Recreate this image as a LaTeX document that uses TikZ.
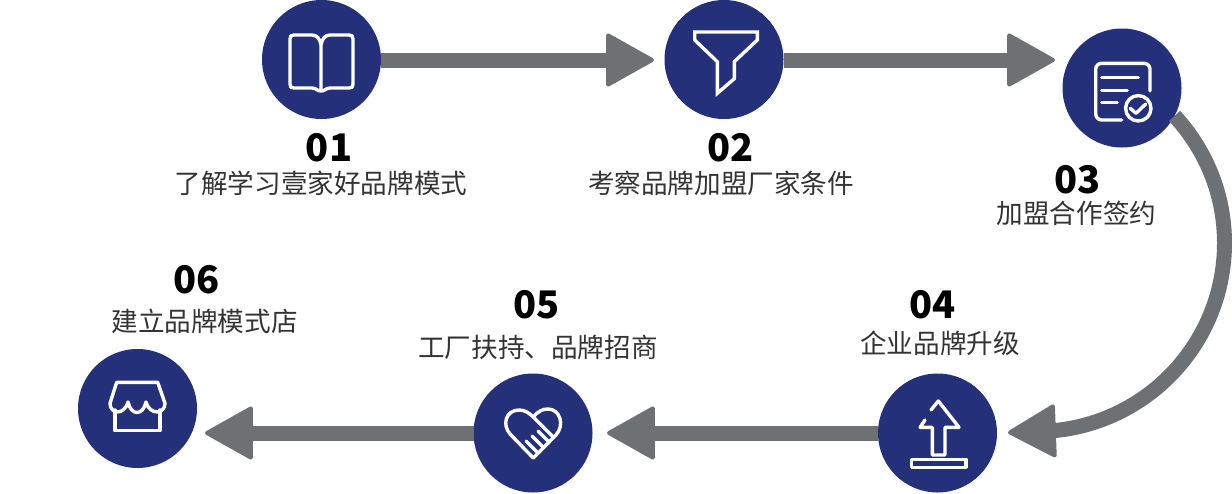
\documentclass[tikz,border=0pt]{standalone}
\usepackage{fontspec}
\setmainfont{Open Sans}
\newfontfamily\cjkfont{Noto Sans CJK SC}
\usetikzlibrary{arrows.meta}
\definecolor{stepblue}{HTML}{25307A}
\definecolor{flowgrey}{HTML}{6D7173}
\definecolor{labelgrey}{HTML}{333333}
\begin{document}
\begin{tikzpicture}[x=0.5pt,y=-0.5pt]
\tikzstyle{stepdot}=[circle,fill=stepblue,minimum size=59.5pt,inner sep=0pt,outer sep=0pt]
\tikzstyle{flow}=[draw=flowgrey,line width=7.5pt,-{Triangle[length=25pt,width=27.5pt,round,line width=2pt]},flowgrey]
\tikzstyle{icon}=[draw=white,line width=1.7pt,line cap=round,line join=round]
\tikzstyle{stepnum}=[text=black,font=\cjkfont\bfseries\fontsize{19}{20}\selectfont,inner sep=0pt]
\tikzstyle{steptext}=[text=labelgrey,font=\cjkfont\fontsize{13.3}{14}\selectfont,inner sep=0pt]
\useasboundingbox (0,0) rectangle (1232,493);
\node[stepdot] (v1) at (321.5,59.5) {};
\node[stepdot] (v2) at (724,59.5) {};
\node[stepdot] (v3) at (1122,88) {};
\node[stepdot] (v4) at (937.5,433) {};
\node[stepdot] (v5) at (533,433) {};
\node[stepdot] (v6) at (137.5,408.5) {};
\coordinate (t2) at (654,60);
\coordinate (t3) at (1055,60);
\coordinate (t4) at (1008,432.5);
\coordinate (t5) at (607,433);
\coordinate (t6) at (205,433);
\draw[flow] (v1.east |- t2) -- (t2);
\draw[flow] (v2.east |- t3) -- (t3);
\draw[flow] (v3.-28) .. controls (1207.3,151.5) and (1224.5,196.4) .. (1224.5,243) .. controls (1224.5,347.1) and (1140.1,431.5) .. (1036,431.5) -- (t4);
\draw[flow] (v4.west |- t5) -- (t5);
\draw[flow] (v5.west |- t6) -- (t6);
\node[stepnum] (n1) at (329,148) {01};
\node[stepnum] (n2) at (730.5,148) {02};
\node[stepnum] (n3) at (1077.5,180) {03};
\node[stepnum] (n4) at (932.5,305) {04};
\node[stepnum] (n5) at (536.5,305) {05};
\node[stepnum] (n6) at (196.5,280) {06};
\node[steptext] (l1) at (321,183.5) {了解学习壹家好品牌模式};
\node[steptext] (l2) at (721,183.5) {考察品牌加盟厂家条件};
\node[steptext] (l3) at (1076.5,213) {加盟合作签约};
\node[steptext] (l4) at (940,343.5) {企业品牌升级};
\node[steptext] (l5) at (538,347.5) {工厂扶持、品牌招商};
\node[steptext] (l6) at (204.5,321) {建立品牌模式店};
% book
\draw[icon] (321,45) .. controls (320,39) and (317,35) .. (312,35) -- (294,35) .. controls (291,35) and (290,36) .. (290,39) -- (290,84) .. controls (290,87) and (291,88) .. (294,88) -- (312,88) .. controls (316,88) and (317,91) .. (321,91) .. controls (325,91) and (326,88) .. (330,88) -- (349,88) .. controls (352,88) and (353,87) .. (353,84) -- (353,39) .. controls (353,36) and (352,35) .. (349,35) -- (330,35) .. controls (325,35) and (322,39) .. (321,45) -- (321,91);
% funnel
\draw[icon,line join=miter] (694.7,32) -- (757.3,32) -- (757.3,40) -- (734.3,61.7) -- (734.3,78.7) -- (717.3,93.3) -- (717.3,61.7) -- (694.7,40) -- cycle;
% checklist
\draw[icon,rounded corners=3pt] (1150,91) -- (1150,63.3) -- (1095.7,63.3) -- (1095.7,120) -- (1121.7,120);
\draw[icon] (1101.7,77.7) -- (1138.3,77.7);
\draw[icon] (1101.7,90.7) -- (1127.3,90.7);
\draw[icon] (1101.7,102.7) -- (1117.3,102.7);
\draw[icon] (1138.3,108.3) circle (12.7);
\draw[icon] (1130.3,108.3) -- (1136,113.3) -- (1145.7,104);
% upload
\draw[icon] (931,410) -- (938.3,401) -- (959,427.3) -- (945,427.3) -- (945,455) -- (932.3,455) -- (932.3,427.3) -- (920,427.3) -- (925,420);
\draw[icon] (911.7,459.3) rectangle (966,467.3);
% heart
\draw[icon] (533.3,458) -- (511,435) .. controls (501,425) and (506,410) .. (519,410) .. controls (525,410) and (529,413) .. (533.3,417) -- (553.3,437);
\draw[icon] (533.3,417) .. controls (538,411) and (543,409) .. (548,409) .. controls (560,409) and (565,425) .. (556,435) -- (533.3,458);
\draw[icon] (526,441) -- (537,452);
\draw[icon] (532,436) -- (543,447);
\draw[icon] (538,431) -- (549,442);
% shop
\draw[icon] (116.7,382.3) -- (157.7,382.3) -- (165,403.3) .. controls (165,414) and (150,416) .. (146,402) .. controls (143,416) and (131,416) .. (128,402) .. controls (124,416) and (110,414) .. (110,403.3) -- cycle;
\draw[icon] (115,410) -- (115,430.7) -- (160,430.7) -- (160,410);
\end{tikzpicture}
\end{document}
